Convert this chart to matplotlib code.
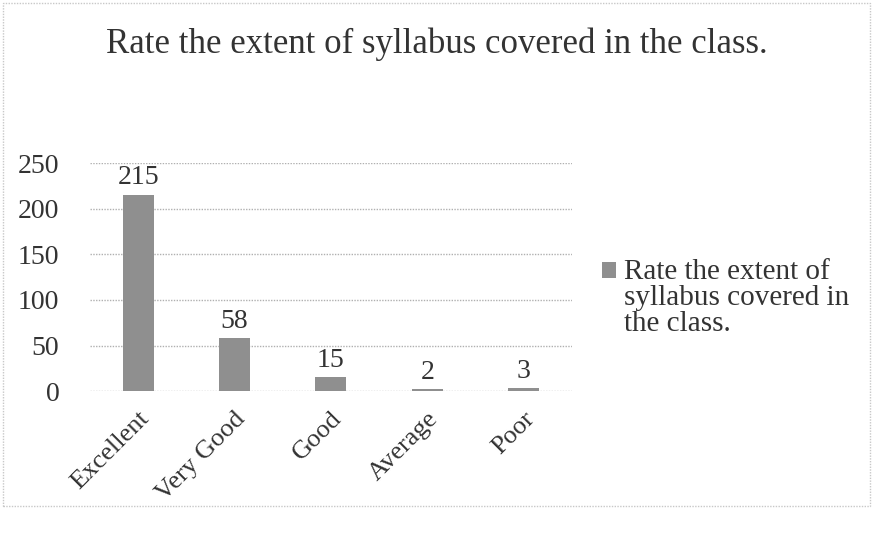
import matplotlib
matplotlib.use("Agg")
import matplotlib.pyplot as plt
from matplotlib.patches import Rectangle
from matplotlib.legend_handler import HandlerPatch

categories = ["Excellent", "Very Good", "Good", "Average", "Poor"]
values = [215, 58, 15, 2, 3]
yticks = [0, 50, 100, 150, 200, 250]
title = "Rate the extent of syllabus covered in the class."
series_name = "Rate the extent of\nsyllabus covered in\nthe class."

plt.rcParams['font.family'] = ['Liberation Serif', 'DejaVu Serif']

fig = plt.figure(figsize=(8.73, 5.38), dpi=100)
ax = fig.add_axes([0.103, 0.273, 0.552, 0.424])
bars = ax.bar(range(len(categories)), values, width=0.32, color='#8f8f8f',
              label=series_name, zorder=3)
ax.set_xlim(-0.5, len(categories) - 0.5)
ax.set_ylim(0, 250)
ax.set_yticks(yticks)
ax.set_yticklabels([str(t) for t in yticks], fontsize=20, color='#333333')
ax.set_xticks(range(len(categories)))
ax.set_xticklabels(categories, rotation=45, ha='right', rotation_mode='anchor',
                   fontsize=19, color='#333333')
ax.tick_params(axis='y', length=0, pad=22)
ax.tick_params(axis='x', length=0, pad=12)
ax.grid(axis='y', color='#b0b0b0', linestyle=(0, (1, 1)), linewidth=1, zorder=0)
for s in ax.spines.values():
    s.set_visible(False)
for i, v in enumerate(values):
    ax.text(i, v + 5, str(v), ha='center', va='bottom', fontsize=20, color='#333333')

fig.text(0.5, 0.918, title, ha='center', va='center', fontsize=25, color='#333333')


def top_patch(legend, orig_handle, xdescent, ydescent, width, height, fontsize):
    return Rectangle((-xdescent, -ydescent + 0.95 * fontsize), width, height)


handle = bars.patches[0]
leg = fig.legend(handles=[handle], labels=[series_name], loc='center left',
                 bbox_to_anchor=(0.66, 0.446), frameon=False, fontsize=21,
                 handlelength=0.45, handleheight=0.45, handletextpad=0.3,
                 labelcolor='#333333',
                 handler_map={Rectangle: HandlerPatch(patch_func=top_patch)})
for t in leg.get_texts():
    t.set_linespacing(1.0)

fig.patches.append(Rectangle((0.004, 0.06), 0.992, 0.935, transform=fig.transFigure,
                             fill=False, edgecolor='#c8c8c8', linewidth=1,
                             linestyle=(0, (1, 1))))

fig.savefig("out.png", dpi=100)
